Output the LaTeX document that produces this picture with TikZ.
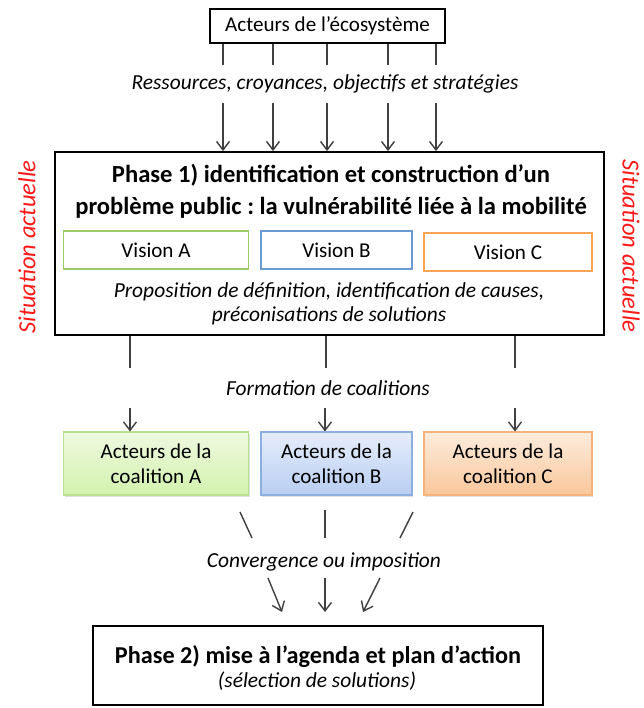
\documentclass[tikz,border=0pt]{standalone}
\usepackage{fontspec}
\setmainfont{Carlito}
\usetikzlibrary{arrows.meta,positioning,shadows}
\frenchspacing

\definecolor{visgreen}{HTML}{9CCB68}
\definecolor{visblue}{HTML}{6A9AD2}
\definecolor{visorange}{HTML}{F9A553}
\definecolor{sitred}{HTML}{FF1A1A}
% coalition fills: top, bottom, border
\definecolor{coalAtop}{HTML}{EEF9DF}
\definecolor{coalAbot}{HTML}{D3F2AE}
\definecolor{coalAdraw}{HTML}{B9E08F}
\definecolor{coalBtop}{HTML}{E6EDFA}
\definecolor{coalBbot}{HTML}{B8CEF2}
\definecolor{coalBdraw}{HTML}{8DAFDF}
\definecolor{coalCtop}{HTML}{FDECDC}
\definecolor{coalCbot}{HTML}{F9C79B}
\definecolor{coalCdraw}{HTML}{F5B27D}

\begin{document}
\begin{tikzpicture}[
    x=0.02cm, y=-0.02cm,
    >={Straight Barb[length=1.7mm,width=2.6mm]},
    topbox/.style={
        rectangle,
        draw=black,
        line width=1.1pt,
        fill=white,
        inner sep=0pt,
        align=center
    },
    visionbox/.style={
        rectangle,
        draw=#1,
        line width=1.1pt,
        fill=white,
        minimum height=7.6mm,
        inner sep=0pt,
        font=\fontsize{12}{14}\selectfont
    },
    coalbox/.style={
        rectangle,
        draw=coal#1draw,
        line width=0.6pt,
        top color=coal#1top,
        bottom color=coal#1bot,
        drop shadow={shadow xshift=0.6pt, shadow yshift=-1pt, opacity=0.25},
        minimum height=12.6mm,
        inner sep=0pt,
        align=center,
        font=\fontsize{12}{14.2}\selectfont
    },
    flowtext/.style={
        inner sep=0pt,
        align=center,
        font=\fontsize{12.2}{13.8}\selectfont\itshape
    },
    sidetext/.style={
        inner sep=0pt,
        text=sitred,
        font=\fontsize{14}{16}\selectfont\itshape
    },
    link/.style={
        line width=0.8pt,
        black!75
    }
]
\useasboundingbox (0,0) rectangle (644,708);

% Actors of the ecosystem (top)
\node[topbox, minimum width=47mm, minimum height=6.8mm, font=\fontsize{12}{14}\selectfont]
  (acteurs) at (327.5,26) {Acteurs de l'écosystème};
\node[flowtext, minimum height=7.6mm] (ressources) at (325,84)
  {Ressources, croyances, objectifs et stratégies};

% Phase 1 frame
\node[topbox, minimum width=109.8mm, minimum height=36.6mm] (phase1) at (329.5,243.5) {};
\node[inner sep=0pt, align=center, font=\fontsize{14}{18.2}\selectfont\bfseries]
  (titre1) at (331,191)
  {Phase 1) identification et construction d'un\\problème public : la vulnérabilité liée à la mobilité};

\foreach \x in {223,273,327,388,436} {
  \draw[link] (acteurs.south -| \x,0) -- (ressources.north -| \x,0);
  \draw[link,->] (ressources.south -| \x,0) -- (phase1.north -| \x,0);
}

% Visions inside phase 1
\node[visionbox=visgreen, minimum width=37mm] (visA) at (156,250) {Vision A};
\node[visionbox=visblue, minimum width=30.2mm] (visB) at (336.5,250) {Vision B};
\node[visionbox=visorange, minimum width=33.6mm] (visC) at (508,252) {Vision C};

\node[flowtext] (proposition) at (329,304)
  {Proposition de définition, identification de causes,\\préconisations de solutions};

% Side labels
\node[sidetext, rotate=90] (sitG) at (27,247) {Situation actuelle};
\node[sidetext, rotate=-90] (sitD) at (631,246) {Situation actuelle};

% Coalition forming
\node[flowtext, minimum height=8mm] (formation) at (328,388) {Formation de coalitions};

\node[coalbox=A, minimum width=37mm] (coalA) at (156,463.5) {Acteurs de la\\coalition A};
\node[coalbox=B, minimum width=30.2mm] (coalB) at (336.5,463.5) {Acteurs de la\\coalition B};
\node[coalbox=C, minimum width=33.6mm] (coalC) at (508,463.5) {Acteurs de la\\coalition C};

\foreach \x in {130,326,515} {
  \draw[link] (phase1.south -| \x,0) -- (formation.north -| \x,0);
}
\draw[link,->] (formation.south -| 130,0) -- (coalA.north -| 130,0);
\draw[link,->] (formation.south -| 325,0) -- (coalB.north -| 325,0);
\draw[link,->] (formation.south -| 515,0) -- (coalC.north -| 515,0);

% Convergence towards phase 2
\node[flowtext] (convergence) at (324,562) {Convergence ou imposition};

\coordinate (cvA1) at (240,512);
\coordinate (cvA2) at (252,538);
\coordinate (cvB1) at (325,510);
\coordinate (cvB2) at (325,538);
\coordinate (cvC1) at (413,512);
\coordinate (cvC2) at (400,538);
\coordinate (inA1) at (268,578);
\coordinate (inA2) at (282,612);
\coordinate (inB1) at (325,578);
\coordinate (inB2) at (325,612);
\coordinate (inC1) at (380,578);
\coordinate (inC2) at (363,612);

\draw[link] (cvA1) -- (cvA2);
\draw[link] (cvB1) -- (cvB2);
\draw[link] (cvC1) -- (cvC2);
\draw[link,->] (inA1) -- (inA2);
\draw[link,->] (inB1) -- (inB2);
\draw[link,->] (inC1) -- (inC2);

% Phase 2
\node[topbox, minimum width=90mm, minimum height=15.8mm] (phase2) at (318,665.5) {};
\node[inner sep=0pt, font=\fontsize{13.8}{16}\selectfont\bfseries] (titre2) at (318,657)
  {Phase 2) mise à l'agenda et plan d'action};
\node[inner sep=0pt, font=\fontsize{12.2}{14}\selectfont\itshape] (selection) at (317,681)
  {(sélection de solutions)};

\end{tikzpicture}
\end{document}
